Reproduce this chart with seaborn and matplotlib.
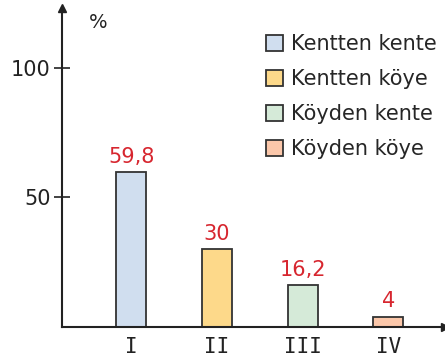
import matplotlib
matplotlib.use("Agg")
import matplotlib.pyplot as plt
import seaborn as sns
import pandas as pd

# Survey shares by migration direction
groups = ["I", "II", "III", "IV"]
directions = ["Kentten kente", "Kentten köye", "Köyden kente", "Köyden köye"]
shares = [59.8, 30, 16.2, 4]
share_labels = ["59,8", "30", "16,2", "4"]
y_ticks = [50, 100]
colors = ["#d0deef", "#fdd98a", "#d5ead8", "#fbc7aa"]

sns.set_style("white")
plt.rcParams["font.family"] = ["DejaVu Sans"]

df = pd.DataFrame({"grup": groups, "oran": shares, "yon": directions})

fig = plt.figure(figsize=(4.45, 3.61), dpi=100)
ax = fig.add_axes([0.139, 0.094, 0.861, 0.884])

sns.barplot(data=df, x="grup", y="oran", hue="yon", palette=colors,
            saturation=1, dodge=False, width=0.35, edgecolor="#333333",
            linewidth=1.3, ax=ax)

ax.set_xlim(-0.81, 3.66)
ax.set_ylim(0, 123)

for sp in ["top", "right"]:
    ax.spines[sp].set_visible(False)
for sp in ["left", "bottom"]:
    ax.spines[sp].set_color("#222222")
    ax.spines[sp].set_linewidth(1.5)

# Axis arrows
ax.plot(1, 0, ">", color="#222222", markersize=6,
        transform=ax.transAxes, clip_on=False)
ax.plot(0, 1, "^", color="#222222", markersize=6,
        transform=ax.transAxes, clip_on=False)

ax.set_yticks(y_ticks)
ax.set_yticklabels([str(t) for t in y_ticks], fontsize=15, color="#222222")
ax.tick_params(axis="y", direction="inout", length=12, width=1.2,
               color="#222222", pad=2, left=True)
ax.tick_params(axis="x", length=0, pad=7, labelsize=15, labelcolor="#222222")
for lbl in ax.get_xticklabels():
    lbl.set_fontfamily("DejaVu Sans Mono")
ax.set_xlabel("")
ax.set_ylabel("")

ax.text(0.07, 0.955, "%", transform=ax.transAxes, fontsize=14,
        color="#222222", va="center", ha="left")

# Value labels above bars
for i, (v, lab) in enumerate(zip(shares, share_labels)):
    ax.text(i, v + 2, lab, ha="center", va="bottom", fontsize=15,
            color="#d7262f")

leg = ax.legend(loc="upper right", bbox_to_anchor=(1.0, 0.945), frameon=False,
                fontsize=15, handlelength=0.8, handleheight=0.8,
                handletextpad=0.4, labelspacing=0.72, borderaxespad=0.0)

fig.savefig("out.png", dpi=100)
